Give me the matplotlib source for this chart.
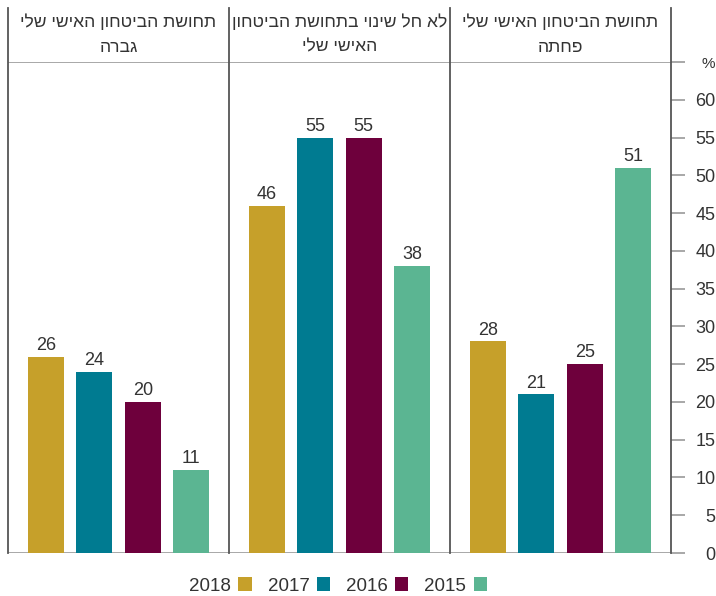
import matplotlib
matplotlib.use("Agg")
import matplotlib.pyplot as plt
from matplotlib.patches import Patch

plt.rcParams['font.family'] = ['Liberation Sans', 'DejaVu Sans']

# ---- data ----
panel_titles = [
    ["תחושת הביטחון האישי שלי", "גברה"],
    ["לא חל שינוי בתחושת הביטחון", "האישי שלי"],
    ["תחושת הביטחון האישי שלי", "פחתה"],
]
years = ["2018", "2017", "2016", "2015"]
values = [
    [26, 24, 20, 11],   # increased
    [46, 55, 55, 38],   # no change
    [28, 21, 25, 51],   # decreased
]
colors = ["#C6A02A", "#007B91", "#6E003C", "#5BB592"]
yticks = list(range(0, 66, 5))
ytick_labels = [str(v) for v in range(0, 61, 5)] + ["%"]


def rtl(s):
    return s[::-1]


W_px, H_px = 716, 596
fig = plt.figure(figsize=(W_px / 100, H_px / 100), dpi=100)
left, right, top, bottom = 8, 671, 62, 553
ax = fig.add_axes([left / W_px, 1 - bottom / H_px, (right - left) / W_px, (bottom - top) / H_px])

W = 221 / 48.4
bw = 36 / 48.4
off = (W - 3) / 2
for p, vals in enumerate(values):
    for j, v in enumerate(vals):
        x = p * W + off + j
        ax.bar(x, v, width=bw, color=colors[j], zorder=2)
        ax.annotate(str(v), (x, v), xytext=(0, 2), textcoords='offset points',
                    ha='center', va='bottom', fontsize=13, color='#333333')

ax.set_xlim(0, 3 * W)
ax.set_ylim(0, 65)
ytop = 65 + (top - 8) / ((bottom - top) / 65)

for p in range(4):
    ax.plot([p * W, p * W], [0, ytop], color='#555555', lw=1.3, clip_on=False, zorder=3)
ax.axhline(65, color='#999999', lw=1.2, zorder=1)
ax.axhline(0, color='#999999', lw=1.2, zorder=1)

for s in ax.spines.values():
    s.set_visible(False)
ax.set_xticks([])
ax.yaxis.tick_right()
ax.set_yticks(yticks)
ax.set_yticklabels(ytick_labels, fontsize=13, color='#333333', ha='right')
ax.get_yticklabels()[-1].set_fontsize(11)
ax.tick_params(axis='y', length=10, color='#999999', width=1.2, pad=22)

for p, (l1, l2) in enumerate(panel_titles):
    xc = (left + (p + 0.5) * (right - left) / 3) / W_px
    fig.text(xc, 1 - 22 / H_px, rtl(l1), ha='center', va='center', fontsize=12.6, color='#333333')
    fig.text(xc, 1 - 47 / H_px, rtl(l2), ha='center', va='center', fontsize=12.6, color='#333333')

handles = [Patch(facecolor=c, edgecolor='none') for c in colors]
fig.legend(handles, years, loc='center', bbox_to_anchor=(338 / W_px, 1 - 586 / H_px),
           ncol=4, frameon=False, markerfirst=False, fontsize=13.5,
           handlelength=0.7, handleheight=0.7, handletextpad=0.4, columnspacing=0.85,
           labelcolor='#333333')

fig.savefig("out.png", dpi=100)
